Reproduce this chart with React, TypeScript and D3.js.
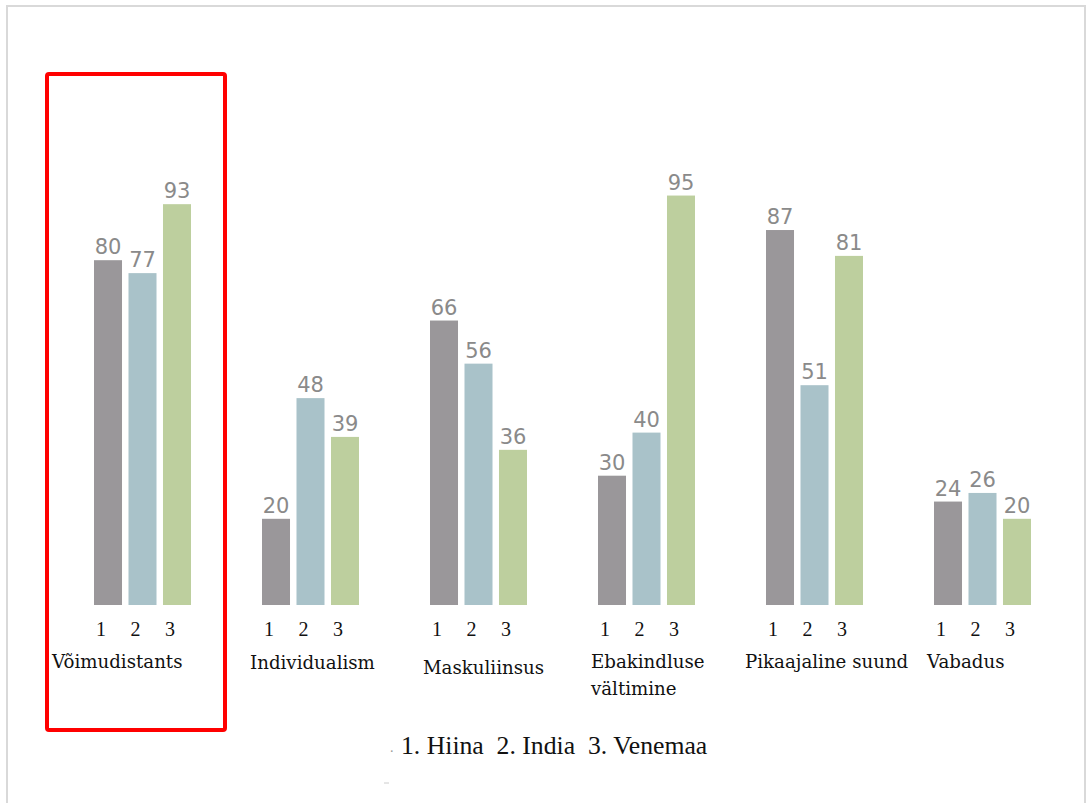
import React from "react";
import * as d3 from "d3";

const categories = ["Võimudistants", "Individualism", "Maskuliinsus", "Ebakindluse\nvältimine", "Pikaajaline suund", "Vabadus"];
const seriesNames = ["1", "2", "3"];
const hiina = [80, 20, 66, 30, 87, 24];
const india = [77, 48, 56, 40, 51, 26];
const venemaa = [93, 39, 36, 95, 81, 20];
const legendText = "1. Hiina  2. India  3. Venemaa";

const colors = ["#9a979a", "#a9c2c9", "#bdcf9e"];
// layout offsets for category label placement (relative to group start)
const labelDx = [-42, -12, -7, -7, -21, -7];
const labelDy = [0, 1, 6, 0, 0, 0];

export default function App() {
  const W = 1087, H = 803;
  const baseY = 605;
  const y = d3.scaleLinear().domain([0, 100]).range([baseY, baseY - 431]);
  const x0 = d3.scaleBand<string>().domain(categories).range([94, 1031]).paddingInner(71 / 168).paddingOuter(0);
  const x1 = d3.scaleBand<string>().domain(seriesNames).range([0, x0.bandwidth()]).paddingInner(0.188).paddingOuter(0);
  const series = [hiina, india, venemaa];

  return (
    <svg width={W} height={H} style={{ position: "absolute", left: 0, top: 0, background: "#fff" }}>
      <rect x={7} y={6} width={1078} height={820} fill="none" stroke="#d9d9d9" strokeWidth={2} />
      <rect x={47} y={74} width={178} height={656} fill="none" stroke="#f00" strokeWidth={4} rx={2} />
      {categories.map((c, ci) => {
        const gx = x0(c)!;
        const lines = c.split("\n");
        return (
          <g key={c}>
            {series.map((s, si) => {
              const bx = gx + x1(seriesNames[si])!;
              const v = s[ci];
              return (
                <g key={si}>
                  <rect x={bx} y={y(v)} width={x1.bandwidth()} height={baseY - y(v)} fill={colors[si]} />
                  <text x={bx + x1.bandwidth() / 2} y={y(v) - 6} textAnchor="middle" fontFamily="DejaVu Sans" fontSize={21} fill="#8a8a8a">{v}</text>
                  <text x={bx + x1.bandwidth() / 2 - 7} y={636} textAnchor="middle" fontFamily="Liberation Serif" fontSize={20} fill="#111">{seriesNames[si]}</text>
                </g>
              );
            })}
            {lines.map((ln, li) => (
              <text key={li} x={gx + labelDx[ci]} y={668 + labelDy[ci] + li * 27} fontFamily="DejaVu Serif" fontSize={18.2} fill="#111">{ln}</text>
            ))}
          </g>
        );
      })}
      <text x={390} y={752} fontFamily="Liberation Serif" fontSize={14} fill="#999">.</text>
      <text x={401} y={754} fontFamily="Liberation Serif" fontSize={25.7} fill="#111">{legendText.replace(/  /g, "\u00a0\u00a0")}</text>
      <line x1={384} x2={389} y1={783} y2={783} stroke="#ccc" strokeWidth={1} />
    </svg>
  );
}
